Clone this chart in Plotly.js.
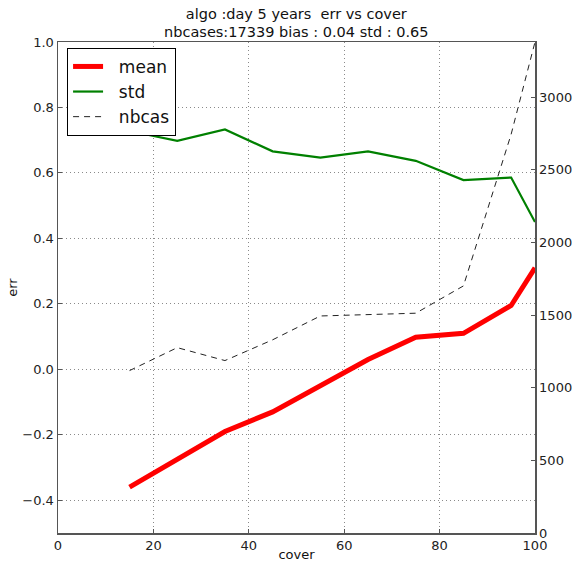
<!DOCTYPE html>
<html>
<head>
<meta charset="utf-8">
<script src="https://cdn.plot.ly/plotly-3.0.1.min.js"></script>
<style>
  html, body { margin: 0; padding: 0; background: #fff; }
  #chart { width: 572px; height: 562px; }
</style>
</head>
<body>
<div id="chart"></div>
<script>
// Data
const cover = [15, 25, 35, 45, 55, 65, 75, 85, 95, 100];
const meanErr = [-0.36, -0.275, -0.19, -0.13, -0.05, 0.03, 0.098, 0.11, 0.195, 0.31];
const stdErr = [0.728, 0.698, 0.733, 0.666, 0.647, 0.666, 0.637, 0.578, 0.586, 0.45];
const nbcas = [1118, 1276, 1187, 1330, 1494, 1505, 1513, 1701, 2745, 3380];

const titleLines = ["algo :day 5 years  err vs cover", "nbcases:17339 bias : 0.04 std : 0.65"];
const seriesNames = ["mean", "std", "nbcas"];

const font = "DejaVu Sans, Bitstream Vera Sans, sans-serif";
const pad = "\u00a0\u00a0";

const traces = [
  {
    x: cover, y: meanErr, name: pad + seriesNames[0], type: "scatter", mode: "lines",
    line: { color: "#ff0000", width: 5 }, yaxis: "y"
  },
  {
    x: cover, y: stdErr, name: pad + seriesNames[1], type: "scatter", mode: "lines",
    line: { color: "#008000", width: 2.2 }, yaxis: "y"
  },
  {
    x: cover, y: nbcas, name: pad + seriesNames[2], type: "scatter", mode: "lines",
    line: { color: "#222222", width: 1, dash: "6px,5px" }, yaxis: "y2"
  }
];

const axisCommon = {
  showline: true, linecolor: "#555", linewidth: 1.5,
  ticks: "inside", ticklen: 4, tickcolor: "#555", tickwidth: 1,
  zeroline: false,
  tickfont: { family: font, size: 13, color: "#222" }
};

const layout = {
  width: 572, height: 562,
  margin: { l: 58, r: 37, t: 42, b: 29 },
  paper_bgcolor: "#fff", plot_bgcolor: "#fff",
  font: { family: font, color: "#111" },
  showlegend: true,
  title: {
    text: titleLines.join("<br>"),
    font: { family: font, size: 14.5, color: "#111" },
    x: 0.518, xanchor: "center", yref: "container", y: 0.967, yanchor: "middle"
  },
  xaxis: Object.assign({}, axisCommon, {
    range: [0, 100], tick0: 0, dtick: 20, mirror: true,
    showgrid: true, gridcolor: "#8a8a8a", gridwidth: 1, griddash: "1px,3px",
    title: { text: "cover", font: { family: font, size: 13, color: "#111" }, standoff: 2 }
  }),
  yaxis: Object.assign({}, axisCommon, {
    range: [-0.5, 1.0], tick0: 0, dtick: 0.2, tickformat: ".1f",
    showgrid: true, gridcolor: "#8a8a8a", gridwidth: 1, griddash: "1px,3px",
    title: { text: "err", font: { family: font, size: 13, color: "#111" }, standoff: 2 }
  }),
  yaxis2: Object.assign({}, axisCommon, {
    overlaying: "y", side: "right",
    range: [0, 3380], tick0: 0, dtick: 500, showgrid: false
  }),
  legend: {
    x: 0.019, y: 0.988, xanchor: "left", yanchor: "top",
    bgcolor: "#fff", bordercolor: "#000", borderwidth: 1,
    font: { family: font, size: 17, color: "#111" },
    tracegroupgap: 0
  }
};

Plotly.newPlot("chart", traces, layout, { staticPlot: true, displayModeBar: false });
</script>
</body>
</html>
